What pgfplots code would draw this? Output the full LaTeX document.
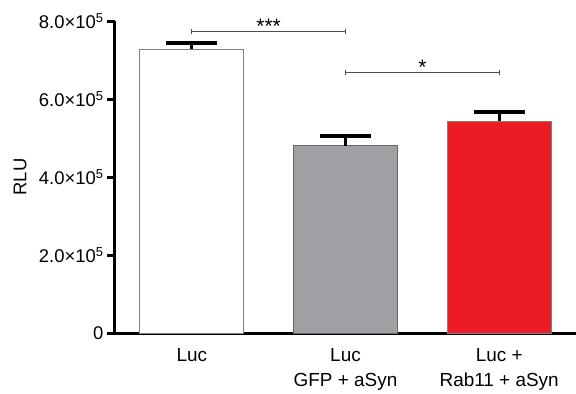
\documentclass[border=0pt]{standalone}
\usepackage{fontspec}
\setmainfont{Liberation Sans}
\usepackage{pgfplots}
\pgfplotsset{compat=1.18}
\definecolor{barred}{HTML}{EC1C24}
\definecolor{bargray}{HTML}{A0A0A4}
\definecolor{edgegray}{HTML}{808080}
\begin{document}
\begin{tikzpicture}
\begin{axis}[
  name=ax, at={(0,0)}, anchor=south west,
  scale only axis, width=461bp, height=312bp,
  xmin=-0.5, xmax=2.5, ymin=0, ymax=8e5,
  clip=false, scaled y ticks=false,
  axis x line=bottom, axis y line=left,
  axis line style={line width=3bp, -, black},
  ytick={0,2e5,4e5,6e5,8e5},
  yticklabels={0, 2.0×10\textsuperscript{5}, 4.0×10\textsuperscript{5}, 6.0×10\textsuperscript{5}, 8.0×10\textsuperscript{5}},
  yticklabel style={font=\fontsize{18.5}{20}\selectfont},
  xtick={0,1,2},
  xticklabels={Luc, Luc\\GFP + aSyn, Luc +\\Rab11 + aSyn},
  xticklabel style={align=center, font=\fontsize{19}{25}\selectfont, yshift=-4bp},
  x tick style={draw=none},
  major tick length=8bp, tick align=outside,
  y tick style={line width=3bp, black},
  ylabel={RLU},
  ylabel style={at={(axis description cs:-0.206,0.5)}, anchor=center, font=\fontsize{18.5}{20}\selectfont},
]
\addplot[ybar, bar width=0.675, bar shift=0pt, fill=white, draw=edgegray, line width=1bp,
  error bars/.cd, y dir=plus, y explicit,
  error bar style={line width=3bp, black},
  error mark options={rotate=90, mark size=25.5bp, line width=4bp, black}]
  coordinates {(0,7.27e5) +- (0,0.16e5)};
\addplot[ybar, bar width=0.675, bar shift=0pt, fill=bargray, draw=edgegray!80!black, line width=1bp,
  error bars/.cd, y dir=plus, y explicit,
  error bar style={line width=3bp, black},
  error mark options={rotate=90, mark size=25.5bp, line width=4bp, black}]
  coordinates {(1,4.80e5) +- (0,0.24e5)};
\addplot[ybar, bar width=0.675, bar shift=0pt, fill=barred, draw=edgegray, line width=1bp,
  error bars/.cd, y dir=plus, y explicit,
  error bar style={line width=3bp, black},
  error mark options={rotate=90, mark size=25.5bp, line width=4bp, black}]
  coordinates {(2,5.43e5) +- (0,0.24e5)};
% significance brackets
\addplot[black!70, line width=0.8bp, mark=|, mark size=2.5bp, mark options={solid, line width=0.8bp}]
  coordinates {(0,7.73e5) (1,7.73e5)};
\addplot[black!70, line width=0.8bp, mark=|, mark size=2.5bp, mark options={solid, line width=0.8bp}]
  coordinates {(1,6.67e5) (2,6.67e5)};
\node[anchor=south, inner sep=0bp, yshift=-2bp, font=\fontsize{21}{21}\selectfont] at (axis cs:0.5,7.73e5) {***};
\node[anchor=south, inner sep=0bp, yshift=-2bp, font=\fontsize{21}{21}\selectfont] at (axis cs:1.5,6.67e5) {*};
\end{axis}
\pgfresetboundingbox
\path ([xshift=-115bp,yshift=-61bp]ax.south west) rectangle ([xshift=461bp,yshift=333bp]ax.south west);
\end{tikzpicture}
\end{document}
